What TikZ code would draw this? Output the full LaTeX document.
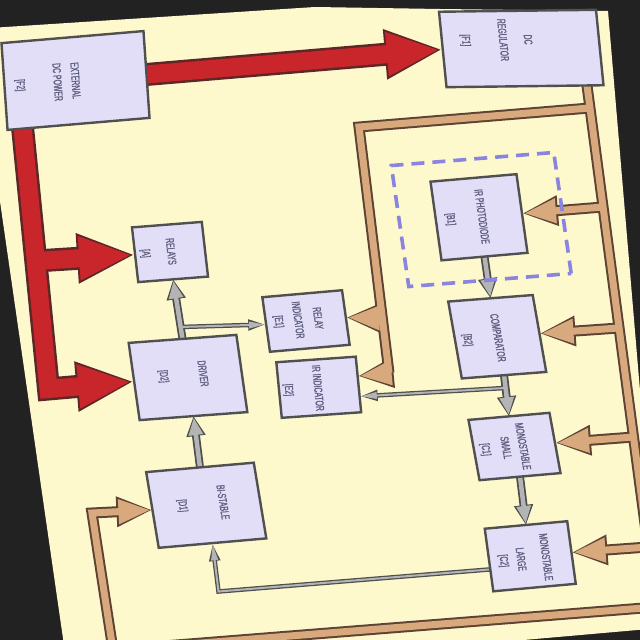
\documentclass[tikz,border=0pt]{standalone}
\usepackage{fontspec}
\setmainfont{Liberation Sans}[FakeStretch=0.6, FakeBold=1.2]
\usetikzlibrary{arrows.meta,calc}
\definecolor{bgdark}{HTML}{222222}
\definecolor{paper}{HTML}{FDF9CC}
\definecolor{boxfill}{HTML}{E3DEF7}
\definecolor{boxline}{HTML}{505050}
\definecolor{txt}{HTML}{5E5E80}
\definecolor{redfill}{HTML}{C8262A}
\definecolor{redline}{HTML}{5E2626}
\definecolor{tanfill}{HTML}{D8A97C}
\definecolor{tanline}{HTML}{5E4334}
\definecolor{grayfill}{HTML}{B4B4B4}
\definecolor{grayline}{HTML}{4E4E4E}
\definecolor{dashc}{HTML}{8A84E0}
\pgfdeclarelayer{paperlayer}
\pgfdeclarelayer{wirelayer}
\pgfsetlayers{paperlayer,wirelayer,main}
\tikzset{
  frame/.style 2 args={rotate=#1, xslant=#2, rotate=-90},
  blk/.style={draw=boxline, fill=boxfill, line width=2.4pt, inner sep=0pt, outer sep=0pt},
  lbl/.style={text=txt, font=\fontsize{11.5}{18}\selectfont, align=center, inner sep=0pt},
  dashbox/.style={draw=dashc, line width=3.6pt, dash pattern=on 13pt off 8pt, inner sep=0pt, outer sep=0pt},
  redO/.style={draw=redline, line width=23pt},
  redI/.style={draw=redfill, line width=18pt},
  redOtip/.style={-{Triangle[length=58pt,width=46pt]}},
  redItip/.style={shorten >=3pt, -{Triangle[length=53pt,width=40pt]}},
  tanO/.style={draw=tanline, line width=11pt},
  tanI/.style={draw=tanfill, line width=7pt},
  tanOtip/.style={-{Triangle[length=36pt,width=28pt]}},
  tanItip/.style={shorten >=2pt, -{Triangle[length=32pt,width=23pt]}},
  grayO/.style={draw=grayline, line width=8pt},
  grayI/.style={draw=grayfill, line width=4.5pt},
  grayOtip/.style={-{Triangle[length=20pt,width=18pt]}},
  grayItip/.style={shorten >=1.5pt, -{Triangle[length=17.5pt,width=13.5pt]}},
  thinO/.style={draw=grayline, line width=4.5pt},
  thinI/.style={draw=grayfill, line width=2pt},
  thinOtip/.style={-{Triangle[length=18pt,width=10pt]}},
  thinItip/.style={shorten >=1.2pt, -{Triangle[length=16pt,width=6.5pt]}},
}
\newcommand\redpaths[1]{%
  \draw[red#1, red#1tip] (ext.north) -- (reg.south);
  \draw[red#1, red#1tip] (rv0) -- (rvc) -- (drv.south);
  \draw[red#1, red#1tip] (rvb) -- (rel.south);
}
\newcommand\tanpaths[1]{%
  \draw[tan#1, tan#1tip] (rb0) -- (rbend) -- (lbot) -- (lcorner) -- (db.south);
  \draw[tan#1, tan#1tip] (rb1) -- (ltc) -- (lbc) -- (iritan);
  \draw[tan#1, tan#1tip] (lbri) -- (ri.north);
  \draw[tan#1, tan#1tip] (bpd) -- (pd.north);
  \draw[tan#1, tan#1tip] (bcmp) -- (cmp.north);
  \draw[tan#1, tan#1tip] (bms) -- (ms.north);
  \draw[tan#1, tan#1tip] (bml) -- (ml.north);
}
\newcommand\graypaths[1]{%
  \draw[gray#1, gray#1tip] (db.west) -- (drv.east);
  \draw[gray#1, gray#1tip] (drv.west) -- (rel.east);
  \draw[gray#1, gray#1tip] (pd.east) -- (cmp.west);
  \draw[gray#1, gray#1tip] (cmp.east) -- (ms.west);
  \draw[gray#1, gray#1tip] (ms.east) -- (ml.west);
  \draw[thin#1, thin#1tip] (gb) -- (ri.south);
  \draw[thin#1, thin#1tip] (gc) -- (irigray);
  \draw[thin#1, thin#1tip] (mlg) -- (c1) -- (db.east);
}
\begin{document}
\begin{tikzpicture}[x=1pt, y=-1pt]
\useasboundingbox (0,0) rectangle (640,640);
\begin{pgfonlayer}{paperlayer}
  \fill[bgdark] (0,0) rectangle (640,640);
  \fill[paper] (-10,28) -- (315,7) -- (440,9) -- (608,11) -- (660,628) -- (69,680) -- (-8,146) -- cycle;
\end{pgfonlayer}

% boxes
\node[blk, frame={4.85}{0.015}, minimum width=87pt, minimum height=142.5pt] (ext) at (75.5,80.5) {};
\node[blk, frame={0.7}{-0.087}, minimum width=75.5pt, minimum height=157pt] (reg) at (521.25,48.5) {};
\node[blk, frame={4.5}{-0.035}, minimum width=55pt, minimum height=70pt] (rel) at (170,252) {};
\node[blk, frame={5}{-0.052}, minimum width=55pt, minimum height=80pt] (ri) at (306,321) {};
\node[blk, frame={4.25}{-0.067}, minimum width=77.8pt, minimum height=108pt] (drv) at (188,377.5) {};
\node[blk, frame={4}{-0.028}, minimum width=55.8pt, minimum height=79.6pt] (iri) at (318.75,387.25) {};
\node[blk, frame={5}{-0.052}, minimum width=79.3pt, minimum height=86.3pt] (pd) at (479,217.25) {};
\node[dashbox, frame={4.6}{-0.063}, minimum width=122pt, minimum height=163pt] (irbox) at (481.25,219.5) {};
\node[blk, frame={4.4}{-0.098}, minimum width=77.7pt, minimum height=84.7pt] (cmp) at (497.25,336.75) {};
\node[blk, frame={5}{-0.094}, minimum width=61pt, minimum height=81.3pt] (ms) at (514.5,446.5) {};
\node[blk, frame={5}{-0.077}, minimum width=76.5pt, minimum height=108pt] (db) at (206.25,505.25) {};
\node[blk, frame={5.2}{-0.045}, minimum width=63.1pt, minimum height=82.8pt] (ml) at (530.25,556.25) {};

% labels
\node[lbl, frame={4.85}{0.015}] (extT) at (47,83) {EXTERNAL\\DC POWER\\[19pt]{}[F2]};
\node[lbl, frame={0.7}{-0.087}] (regT) at (496,40) {DC\\[7pt]REGULATOR\\[19pt]{}[F1]};
\node[lbl, frame={4.5}{-0.035}] (relT) at (157.5,252.5) {RELAYS\\[7pt]{}[A]};
\node[lbl, frame={5}{-0.052}] (riT) at (297.5,320) {RELAY\\[2pt]INDICATOR\\[1pt]{}[E1]};
\node[lbl, frame={4.25}{-0.067}] (drvT) at (182.5,375) {DRIVER\\[21pt]{}[D2]};
\node[lbl, frame={4}{-0.028}] (iriT) at (302.5,389) {IR INDICATOR\\[11pt]{}[E2]};
\node[lbl, frame={5}{-0.052}] (pdT) at (465.5,218) {IR PHOTODIODE\\[13pt]{}[B1]};
\node[lbl, frame={4.4}{-0.098}] (cmpT) at (482,339) {COMPARATOR\\[12pt]{}[B2]};
\node[lbl, frame={5}{-0.094}] (msT) at (503.5,448) {MONOSTABLE\\[-1pt]SMALL\\[2pt]{}[C1]};
\node[lbl, frame={5}{-0.077}] (dbT) at (202,504) {BI-STABLE\\[22pt]{}[D1]};
\node[lbl, frame={5.2}{-0.045}] (mlT) at (524,559) {MONOSTABLE\\[7pt]LARGE\\[-1pt]{}[C2]};

% connector coordinates
\coordinate (rv0) at (22,122);
\coordinate (rvc) at (48.5,389);
\coordinate (rvb) at (35.6,261);
\coordinate (rb0) at (586,78);
\coordinate (rbend) at (656,607);
\coordinate (lbot) at (113,650);
\coordinate (lcorner) at (92,513);
\coordinate (rb1) at (589.7,108);
\coordinate (ltc) at (359,127);
\coordinate (lbc) at (389,373);
\coordinate (lbri) at (382.3,318);
\coordinate (bpd) at (602.9,207);
\coordinate (bcmp) at (618.9,328);
\coordinate (bms) at (633.4,437);
\coordinate (bml) at (648,547);
\coordinate (c1) at (218.5,591.5);
\coordinate (iritan) at ($(iri.north)!0.3!(iri.north west)$);
\coordinate (irigray) at ($(iri.north)!0.43!(iri.north east)$);
\coordinate (gb) at ($(drv.west)!0.2!(rel.east)$);
\coordinate (gc) at ($(cmp.east)!0.31!(ms.west)$);
\coordinate (mlg) at ($(ml.south)!0.3!(ml.south east)$);

\begin{pgfonlayer}{wirelayer}
  \tanpaths{O}
  \tanpaths{I}
  \redpaths{O}
  \redpaths{I}
  \graypaths{O}
  \graypaths{I}
\end{pgfonlayer}
\end{tikzpicture}
\end{document}
